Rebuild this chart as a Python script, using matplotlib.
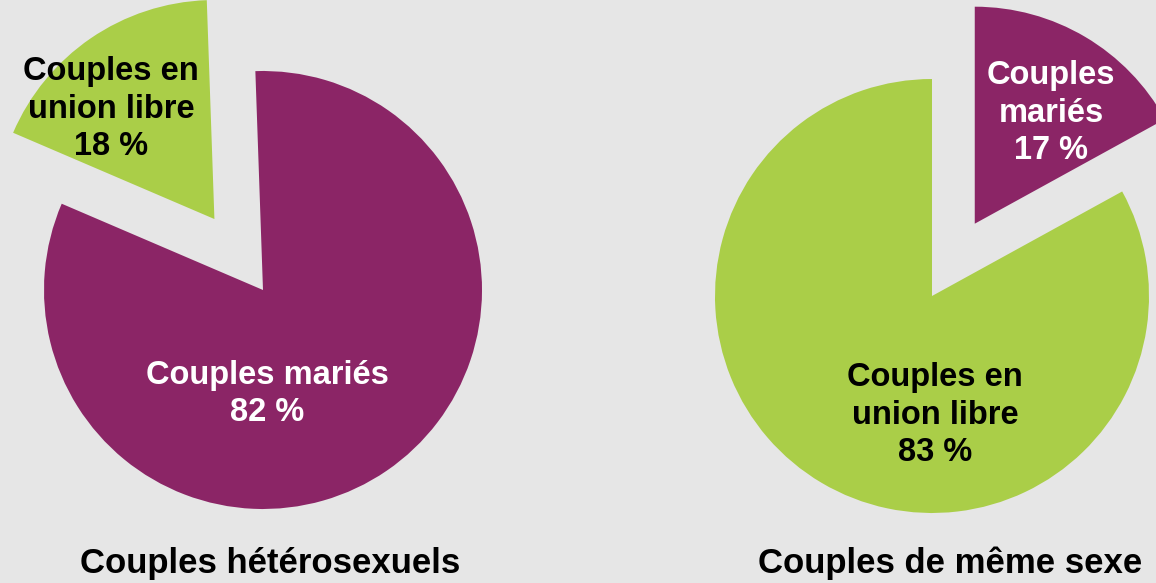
import matplotlib.pyplot as plt

# data
labels = ['Couples en\nunion libre', 'Couples mariés']
hetero = [18, 82]
meme_sexe = [83, 17]
titles = ['Couples hétérosexuels', 'Couples de même sexe']

GREEN = '#aace48'
PURPLE = '#8b2566'
BG = '#e6e6e6'
W, H = 1156, 583

plt.rcParams['font.family'] = ['Liberation Sans', 'DejaVu Sans']

fig = plt.figure(figsize=(W / 100, H / 100), dpi=100)
fig.patch.set_facecolor(BG)
ax = fig.add_axes([0, 0, 1, 1])
ax.set_xlim(0, W)
ax.set_ylim(0, H)
ax.set_aspect('equal')
ax.axis('off')

# left pie: green slice pulled out
ax.pie(hetero, colors=[GREEN, PURPLE], startangle=92, radius=219,
       center=(263, H - 290), explode=[86, 0],
       wedgeprops={'linewidth': 0})
# right pie: purple slice pulled out
ax.pie(meme_sexe, colors=[GREEN, PURPLE], startangle=90, radius=217,
       center=(932, H - 296), explode=[0, 84],
       wedgeprops={'linewidth': 0})
ax.set_xlim(0, W)
ax.set_ylim(0, H)

lab = {'fontsize': 23.5, 'fontweight': 'bold', 'ha': 'center',
       'va': 'center', 'linespacing': 1.27}
ax.text(111, H - 109, labels[0] + '\n' + str(hetero[0]) + ' %', color='black', **lab)
ax.text(267, H - 394, labels[1] + '\n' + str(hetero[1]) + ' %', color='white', **lab)
ax.text(935, H - 415, labels[0] + '\n' + str(meme_sexe[0]) + ' %', color='black', **lab)
ax.text(1051, H - 113, 'Couples\nmariés\n' + str(meme_sexe[1]) + ' %', color='white', **lab)

ax.text(270, H - 573, titles[0], fontsize=25, fontweight='bold', ha='center', va='baseline')
ax.text(950, H - 573, titles[1], fontsize=25, fontweight='bold', ha='center', va='baseline')

fig.savefig('out.png', dpi=100, facecolor=BG)
